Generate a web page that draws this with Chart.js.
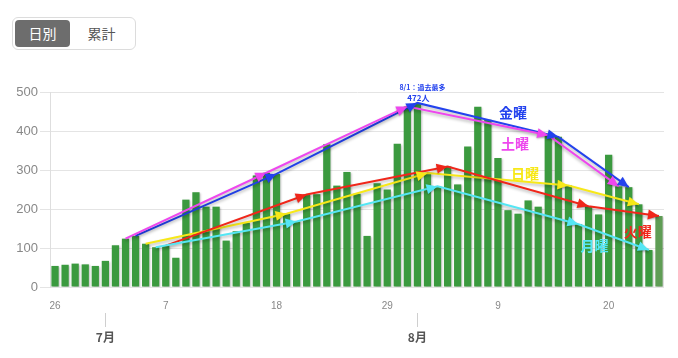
<!DOCTYPE html>
<html lang="ja">
<head>
  <meta charset="UTF-8" />
  <title>日別陽性者数</title>
  <script src="https://cdn.jsdelivr.net/npm/chart.js"></script>
  <style>
    * { box-sizing: border-box; }
    body {
      margin: 0;
      background: #fff;
      width: 678px;
      height: 358px;
      overflow: hidden;
      font-family: 'Noto Sans CJK JP', 'Liberation Sans', sans-serif;
    }
    .switch {
      position: absolute;
      left: 12px;
      top: 17px;
      width: 124px;
      height: 33px;
      border: 1px solid #dcdcdc;
      border-radius: 6px;
      display: flex;
      padding: 2px;
    }
    .switch span {
      width: 56px;
      height: 27px;
      line-height: 27px;
      text-align: center;
      font-size: 14px;
      color: #555;
      border-radius: 4px;
    }
    .switch span.on {
      background: #6d6d6d;
      color: #fff;
    }
    .switch span.off { width: 64px; }
    #wrap {
      position: absolute;
      left: 0;
      top: 0;
      width: 678px;
      height: 358px;
    }
  </style>
</head>
<body>

<div class="switch">
  <span class="on">日別</span>
  <span class="off">累計</span>
</div>

<div id="wrap"><canvas id="dailyChart"></canvas></div>

<script>
  // 日付（6/26〜8/25）
  const days = [
    '6/26','6/27','6/28','6/29','6/30',
    '7/1','7/2','7/3','7/4','7/5','7/6','7/7','7/8','7/9','7/10',
    '7/11','7/12','7/13','7/14','7/15','7/16','7/17','7/18','7/19','7/20',
    '7/21','7/22','7/23','7/24','7/25','7/26','7/27','7/28','7/29','7/30','7/31',
    '8/1','8/2','8/3','8/4','8/5','8/6','8/7','8/8','8/9','8/10',
    '8/11','8/12','8/13','8/14','8/15','8/16','8/17','8/18','8/19','8/20',
    '8/21','8/22','8/23','8/24','8/25'
  ];

  // 日別陽性者数
  const cases = [
    54, 57, 60, 58, 54,
    67, 107, 124, 131, 111, 102, 106, 75, 224, 243,
    206, 206, 119, 143, 165, 286, 293, 290, 188, 168,
    237, 238, 366, 260, 295, 239, 131, 266, 250, 367, 463,
    472, 292, 258, 309, 263, 360, 462, 429, 331, 197,
    188, 222, 206, 389, 385, 260, 161, 207, 186, 339,
    258, 256, 212, 95, 182
  ];

  // 曜日ごとの推移
  const friDays = ['7/4', '7/18', '8/1', '8/15', '8/22'];
  const friVals = [131, 290, 472, 385, 256];
  const satDays = ['7/3', '7/17', '7/31', '8/14', '8/21'];
  const satVals = [124, 293, 463, 389, 258];
  const sunDays = ['7/5', '7/19', '8/2', '8/16', '8/23'];
  const sunVals = [111, 188, 292, 260, 212];
  const monDays = ['7/6', '7/20', '8/3', '8/17', '8/24'];
  const monVals = [102, 168, 258, 161, 95];
  const tueDays = ['7/7', '7/21', '8/4', '8/18', '8/25'];
  const tueVals = [106, 237, 309, 207, 182];

  // 目盛り
  const yTicks = [0, 100, 200, 300, 400, 500];
  const dayTicks = ['6/26', '7/7', '7/18', '7/29', '8/9', '8/20'];
  const monthStarts = ['7/1', '8/1'];
  const monthNames = ['7月', '8月'];

  const BLUE = '#2342ee';
  const PINK = '#ee47ee';
  const YELLOW = '#f7e818';
  const CYAN = '#55e6f4';
  const RED = '#f0261a';

  const toPoints = (ds, vs) => ds.map((d, i) => ({ x: d, y: vs[i] }));

  function trend(label, ds, vs, color) {
    return {
      type: 'line',
      label,
      data: toPoints(ds, vs),
      borderColor: color,
      backgroundColor: color,
      borderWidth: 2,
      pointRadius: 0,
      tension: 0,
      order: 1
    };
  }

  // 文字の注記（曜日名）
  const notes = [
    { text: '金曜', color: BLUE, x: 45.5, y: 446, size: 14 },
    { text: '土曜', color: PINK, x: 45.7, y: 368, size: 14 },
    { text: '日曜', color: YELLOW, x: 46.7, y: 291, size: 14 },
    { text: '火曜', color: RED, x: 57.9, y: 142, size: 14 },
    { text: '月曜', color: CYAN, x: 53.6, y: 106, size: 14 }
  ];

  const shadowPlugin = {
    id: 'shadows',
    beforeDatasetDraw(chart, args) {
      const ctx = chart.ctx;
      ctx.save();
      if (args.meta.type === 'bar') {
        ctx.shadowColor = 'rgba(0,0,0,0.25)';
        ctx.shadowBlur = 2;
        ctx.shadowOffsetX = 1;
        ctx.shadowOffsetY = 1;
      } else {
        ctx.shadowColor = 'rgba(0,0,0,0.28)';
        ctx.shadowBlur = 3;
        ctx.shadowOffsetX = 0;
        ctx.shadowOffsetY = 2;
      }
    },
    afterDatasetDraw(chart) {
      chart.ctx.restore();
    }
  };

  const arrowPlugin = {
    id: 'arrows',
    afterDatasetsDraw(chart) {
      const ctx = chart.ctx;
      chart.data.datasets.forEach((ds, di) => {
        if (ds.type !== 'line') return;
        const pts = chart.getDatasetMeta(di).data;
        for (let i = 1; i < pts.length; i++) {
          const a = pts[i - 1], b = pts[i];
          const ang = Math.atan2(b.y - a.y, b.x - a.x);
          const len = 11, half = 5;
          ctx.save();
          ctx.translate(b.x, b.y);
          ctx.rotate(ang);
          ctx.beginPath();
          ctx.moveTo(0, 0);
          ctx.lineTo(-len, -half);
          ctx.lineTo(-len, half);
          ctx.closePath();
          ctx.fillStyle = ds.borderColor;
          ctx.shadowColor = 'rgba(0,0,0,0.25)';
          ctx.shadowBlur = 2;
          ctx.shadowOffsetY = 1;
          ctx.fill();
          ctx.restore();
        }
      });

      const xs = chart.scales.x, ys = chart.scales.y;
      ctx.save();
      ctx.textAlign = 'center';
      ctx.textBaseline = 'middle';
      notes.forEach(n => {
        ctx.font = 'bold ' + n.size + 'px "Noto Sans CJK JP", sans-serif';
        ctx.fillStyle = n.color;
        ctx.fillText(n.text, xs.getPixelForValue(n.x), ys.getPixelForValue(n.y));
      });
      // 過去最多の注記
      const peakIdx = cases.indexOf(Math.max(...cases));
      const px = xs.getPixelForValue(peakIdx);
      const py = ys.getPixelForValue(cases[peakIdx]);
      ctx.fillStyle = BLUE;
      ctx.font = 'bold 7px "Noto Sans CJK JP", sans-serif';
      ctx.fillText(days[peakIdx] + '：過去最多', px + 5, py - 16);
      ctx.font = 'bold 8px "Noto Sans CJK JP", sans-serif';
      ctx.fillText(cases[peakIdx] + '人', px + 1, py - 5);
      ctx.restore();
    }
  };

  const lastIdx = cases.length - 1;

  new Chart(document.getElementById('dailyChart'), {
    type: 'bar',
    data: {
      labels: days,
      datasets: [
        {
          label: '陽性者数',
          data: cases,
          backgroundColor: ctx => ctx.dataIndex === lastIdx ? '#5f9d55' : '#3b9a3f',
          barPercentage: 0.72,
          categoryPercentage: 1,
          order: 10
        },
        trend('月曜', monDays, monVals, CYAN),
        trend('火曜', tueDays, tueVals, RED),
        trend('日曜', sunDays, sunVals, YELLOW),
        trend('土曜', satDays, satVals, PINK),
        trend('金曜', friDays, friVals, BLUE)
      ]
    },
    options: {
      responsive: true,
      maintainAspectRatio: false,
      animation: false,
      layout: { padding: { top: 92, right: 14, bottom: 14, left: 0 } },
      plugins: {
        legend: { display: false },
        tooltip: { enabled: false }
      },
      scales: {
        x: {
          type: 'category',
          weight: 0,
          offset: true,
          grid: { display: false, drawTicks: false, tickLength: 0 },
          border: { display: false },
          ticks: {
            autoSkip: false,
            maxRotation: 0,
            padding: 13,
            color: '#888',
            font: { family: 'Liberation Sans', size: 10 },
            callback: (v, i) => dayTicks.includes(days[i]) ? days[i].split('/')[1] : ''
          },
          afterFit: s => { s.height = 26; }
        },
        x2: {
          type: 'category',
          labels: days,
          position: 'bottom',
          weight: 1,
          offset: true,
          grid: {
            offset: false,
            drawOnChartArea: false,
            tickLength: 14,
            color: c => monthStarts.includes(days[c.index]) ? '#cfcfcf' : 'rgba(0,0,0,0)'
          },
          border: { display: false },
          ticks: {
            autoSkip: false,
            maxRotation: 0,
            padding: 3,
            color: '#555',
            font: { family: 'Noto Sans CJK JP', size: 12, weight: 'bold' },
            callback: (v, i) => {
              const k = monthStarts.indexOf(days[i]);
              return k >= 0 ? monthNames[k] : '';
            }
          },
          afterFit: s => { s.height = 31; }
        },
        y: {
          min: yTicks[0],
          max: yTicks[yTicks.length - 1],
          afterBuildTicks: s => { s.ticks = yTicks.map(v => ({ value: v })); },
          grid: { color: '#e4e4e4', tickLength: 10 },
          border: { color: '#dedede' },
          ticks: {
            padding: 2,
            color: '#888',
            font: { family: 'Liberation Sans', size: 13 }
          },
          afterFit: s => { s.width = 50; }
        }
      }
    },
    plugins: [shadowPlugin, arrowPlugin]
  });
</script>

</body>
</html>
